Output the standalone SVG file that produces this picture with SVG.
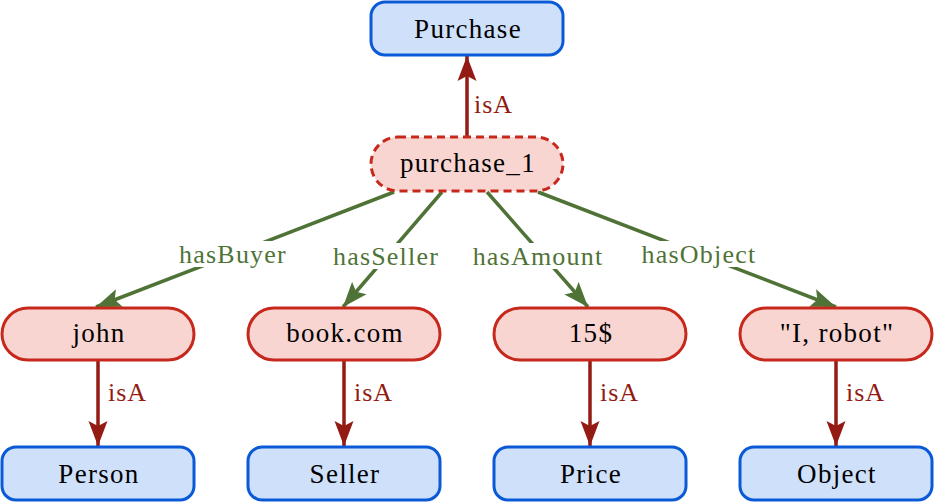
<svg xmlns="http://www.w3.org/2000/svg" width="934" height="502" viewBox="0 0 934 502">
<defs>
<marker id="ar" markerUnits="userSpaceOnUse" markerWidth="27" markerHeight="20" refX="25" refY="10" orient="auto">
<path d="M0,0.5 L25,10 L0,19.5 L5,10 Z" fill="#931b13"/>
</marker>
<marker id="ag" markerUnits="userSpaceOnUse" markerWidth="27" markerHeight="20" refX="25" refY="10" orient="auto">
<path d="M0,0.5 L25,10 L0,19.5 L5,10 Z" fill="#4f7336"/>
</marker>
</defs>
<style>
text{font-family:"Liberation Serif","DejaVu Serif",serif;text-anchor:middle}
.cls rect{fill:#cfe0fb;stroke:#0a5ad8;stroke-width:3}
.ins rect{fill:#f9d5d2;stroke:#c7281c;stroke-width:3}
.nt{font-size:27px;letter-spacing:1.3px;fill:#000}
.isa{stroke:#931b13;stroke-width:3.5;fill:none;marker-end:url(#ar)}
.has{stroke:#4f7336;stroke-width:3.5;fill:none;marker-end:url(#ag)}
.li{font-size:26px;letter-spacing:1px;fill:#931b13;text-anchor:start}
.lh{font-size:26px;letter-spacing:1.2px;fill:#4f7336}
.bg{fill:#fff}
</style>
<g id="connectors">
<line class="isa" x1="467" y1="137" x2="467" y2="56"/>
<line class="isa" x1="98" y1="361" x2="98" y2="446"/>
<line class="isa" x1="344" y1="361" x2="344" y2="446"/>
<line class="isa" x1="590" y1="361" x2="590" y2="446"/>
<line class="isa" x1="836" y1="361" x2="836" y2="446"/>
<text class="li" x="474" y="113">isA</text>
<text class="li" x="108" y="401">isA</text>
<text class="li" x="354" y="401">isA</text>
<text class="li" x="600" y="401">isA</text>
<text class="li" x="846" y="401">isA</text>
<line class="has" x1="394" y1="192" x2="96" y2="307"/>
<line class="has" x1="442" y1="192" x2="343" y2="307"/>
<line class="has" x1="487" y1="192" x2="588" y2="307"/>
<line class="has" x1="538" y1="192" x2="836" y2="307"/>
<rect class="bg" x="172" y="241" width="122" height="26"/>
<rect class="bg" x="328" y="243" width="114" height="26"/>
<rect class="bg" x="462" y="243" width="150" height="26"/>
<rect class="bg" x="636" y="241" width="124" height="26"/>
<text class="lh" x="233" y="263">hasBuyer</text>
<text class="lh" x="386" y="265">hasSeller</text>
<text class="lh" x="538" y="265">hasAmount</text>
<text class="lh" x="699" y="263">hasObject</text>
</g>
<g id="n-Purchase" class="cls"><rect x="371" y="2" width="192" height="53" rx="14"/><text class="nt" x="468" y="38">Purchase</text></g>
<g id="n-purchase_1" class="ins"><rect x="371" y="137" width="192" height="54" rx="27" style="stroke-dasharray:8 5"/><text class="nt" x="468" y="172">purchase_1</text></g>
<g id="n-john" class="ins"><rect x="2" y="308" width="192" height="52" rx="26"/><text class="nt" x="99" y="342">john</text></g>
<g id="n-book" class="ins"><rect x="248" y="308" width="192" height="52" rx="26"/><text class="nt" x="345" y="342">book.com</text></g>
<g id="n-15" class="ins"><rect x="494" y="308" width="192" height="52" rx="26"/><text class="nt" x="591" y="342">15$</text></g>
<g id="n-robot" class="ins"><rect x="740" y="308" width="192" height="52" rx="26"/><text class="nt" x="837" y="342">"I, robot"</text></g>
<g id="n-Person" class="cls"><rect x="2" y="447" width="192" height="53" rx="14"/><text class="nt" x="99" y="483">Person</text></g>
<g id="n-Seller" class="cls"><rect x="248" y="447" width="192" height="53" rx="14"/><text class="nt" x="345" y="483">Seller</text></g>
<g id="n-Price" class="cls"><rect x="494" y="447" width="192" height="53" rx="14"/><text class="nt" x="591" y="483">Price</text></g>
<g id="n-Object" class="cls"><rect x="740" y="447" width="192" height="53" rx="14"/><text class="nt" x="837" y="483">Object</text></g>
</svg>
